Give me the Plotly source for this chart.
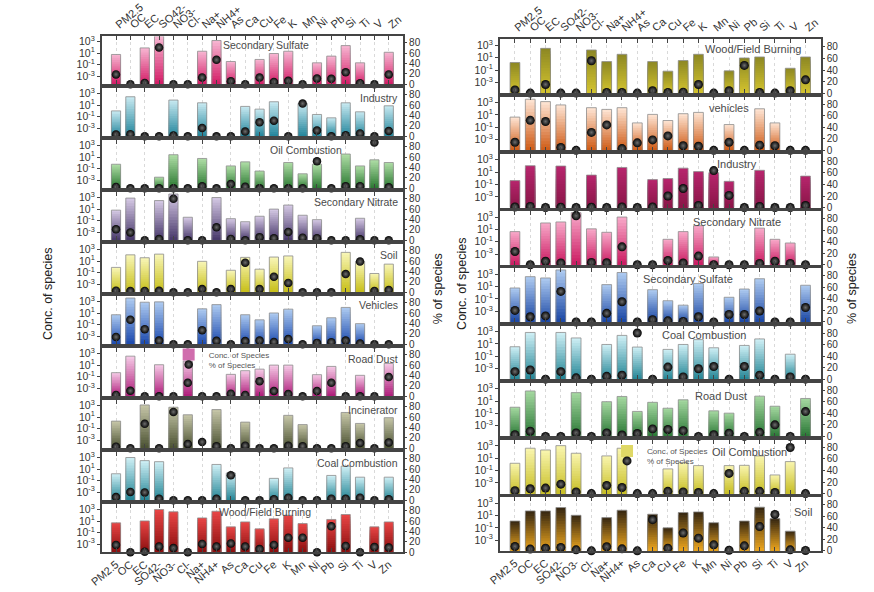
import math
import plotly.graph_objects as go

W, H = 874, 592
FONT = "Arial, Liberation Sans, sans-serif"

species = ["PM2.5", "OC", "EC", "SO42-", "NO3-", "Cl-", "Na+", "NH4+", "As", "Ca",
           "Cu", "Fe", "K", "Mn", "Ni", "Pb", "Si", "Ti", "V", "Zn"]

# ---------------- left column (concentration, % of species) ----------------
ss_L_conc = [5.8, None, 79, 9000, None, None, 21, 1500, 0.35, None, 0.8, 8.5, 21, None, 0.21, 3.0, 200, 0.21, None, 14]
ss_L_pct = [19, 0, 2.6, 71, 0, 0, 13, 47, 6, 0, 13, 4.5, 6.5, 0, 11, 10.4, 23, 2, 0, 19]
ind_L_conc = [1.0, 280, None, None, 74, None, 25, None, None, 5.9, 2.0, 38, None, 19, 0.24, 0.063, 25, 0.69, None, 7.6]
ind_L_pct = [3.4, 4, 0, 0, 1.4, 0, 16, 0, 0, 9, 27, 30, 0, 63, 11, 0, 2, 5.5, 0, 10]
oil_L_conc = [0.58, None, None, 0.0034, 26, None, 5.8, None, 0.3, 1.5, 0.039, None, 1.15, 0.013, 0.58, None, 34, 0.3, 3.4, 1.15]
oil_L_pct = [2.5, 0, 0, 0, 0, 0, 4, 0, 8, 3, 0, 0, 0, 0, 52, 0, 4, 4, 88, 2]
sn_L_conc = [6.6, 800, None, 300, 4000, 0.39, None, 1000, 0.22, 0.066, 0.58, 10, 50, 0.87, 0.15, None, None, 0.26, None, None]
sn_L_pct = [21, 15, 0, 2.6, 80, 0, 0, 25, 2.6, 0, 6, 4, 16, 5, 4, 0, 0, 2, 0, 0]
soil_L_conc = [0.81, 120, 38, 160, None, None, 9.1, None, 0.26, 44, 0.4, 50, 78, None, None, None, 320, 7.9, 0.072, 3.0]
soil_L_pct = [3, 2.5, 2.5, 3, 0, 0, 6, 0, 6, 57, 6, 30, 18, 0, 0, 0, 35, 59, 2.5, 4.5]
veh_L_conc = [5.2, 4000, 760, 870, None, None, 55, 290, None, 5.2, 0.68, 10.5, 48, None, 0.065, 1.55, 95, 0.15, None, None]
veh_L_pct = [14, 47, 29, 7, 0, 0, 27, 6.5, 0, 6, 7, 4.5, 10, 0, 2.6, 4, 7, 1.3, 0, 0]
rd_L_conc = [0.49, 350, None, 11.5, None, 49, None, None, 0.25, 1.07, 2.0, 10, 10, None, 0.22, 5.9, None, 0.17, None, 19.5]
rd_L_pct = [2.5, 10.5, 0, 0, 0, 26, 0, 0, 5, 2.5, 29, 10, 4.3, 0, 10, 26, 0, 0, 0, 37]
inc_L_conc = [2.0, None, 1260, None, 500, 25, None, 200, None, 1.35, None, None, 20, 0.5, None, None, 63, 0.8, None, 7.9]
inc_L_pct = [3, 0, 47, 0, 70, 8, 12, 4, 0, 5, 0, 0, 5, 4, 0, 0, 4, 10, 0, 11]
coal_L_conc = [1.55, 1000, 290, 190, None, None, None, 63, 2.0, None, None, 0.25, 16, None, None, 0.8, 32, 0.4, None, 0.4]
coal_L_pct = [6, 16, 15, 3, 0, 0, 0, 3, 48, 0, 0, 2, 5, 0, 0, 3, 3, 5, 0, 2]
wood_L_conc = [4.9, None, 10.7, 1000, 400, None, 35, 500, 1.0, 7.2, 0.45, 24, 100, 3.7, None, 19, 135, None, 1.0, 7.2]
wood_L_pct = [14, 0, 1, 11, 8, 0, 16, 11, 17, 11, 6, 14, 28, 28, 0, 50, 12, 0, 10, 9]

# ---------------- right column ----------------
wood_R_conc = [1.7, None, 330, None, None, 180, 2.4, 36, None, 2.4, 0.068, 3.5, 36, None, 0.076, 9.3, 13.5, None, 0.2, 13.5]
wood_R_pct = [5.5, 0, 15, 0, 0, 56, 1, 1, 0, 4, 1, 1.6, 15, 0, 4, 48, 1, 0, 4, 23]
veh_R_conc = [4.5, 3500, 1450, 420, None, 150, 79, 150, 0.52, 12.3, 1.26, 16, 26, None, 0.28, None, 100, 0.52, None, None]
veh_R_pct = [14, 52, 50, 5, 0, 31, 44, 3, 13, 18, 25, 8, 7, 0, 14, 0, 9, 8, 0, 0]
ind_R_conc = [0.43, 110, None, 98, None, 3.4, None, 58, None, 0.63, 0.93, 45, 12.3, 8.3, 0.33, None, 20, None, None, 2.3]
ind_R_pct = [1, 2, 0, 0.5, 0, 0.5, 0, 1, 0, 1, 20, 33, 3.5, 64, 21, 0, 2, 0, 0, 3.5]
sn_R_conc = [4.4, None, 110, 160, 5000, 12.3, 3.4, 1000, None, None, 0.25, 4.4, 40, 0.00035, None, None, 16, 0.25, 0.063, None]
sn_R_pct = [23, 0, 6, 3, 85, 4, 3.4, 31, 0, 0, 7.4, 3, 15, 0, 0, 0, 2.3, 6, 2.3, 0]
ss_R_conc = [6, 410, 250, 5000, None, None, 21, 1900, None, 3.2, 0.052, 0.01, 32, None, 0.19, 4.1, 190, None, None, 16.6]
ss_R_pct = [20, 9, 10.5, 53, 0, 0, 15, 35, 0, 4, 2, 1, 9, 0, 13, 13, 19, 0, 0, 25]
coal_R_conc = [3.4, 690, None, 690, 89, None, 7.9, 230, 3.0, None, 1.26, 7.9, 48, 2.3, None, 5.5, 62, None, 0.21, None]
coal_R_pct = [13, 16, 0, 13, 2.4, 0, 5, 7, 80, 0, 21, 4, 18, 22, 0, 22, 7, 0, 4, 0]
rd_R_conc = [1.0, 430, None, None, 230, None, 7.9, 55, 0.21, 6.2, 0.69, 16, None, 0.26, 0.11, None, 62, 1.45, None, 26]
rd_R_pct = [3, 9, 0, 0, 6, 0, 6, 2.4, 5, 13, 12, 10, 0, 3, 5.4, 0, 7, 20, 0, 43]
oil_R_conc = [1.55, 420, 220, 1100, 65, None, 24, 420, None, None, 0.19, 2.0, 0.65, None, 0.65, 0.72, 24, 0.02, 2.9, None]
oil_R_pct = [5, 8.5, 9.6, 16.4, 3, 0, 14, 10.7, 0, 0, 4, 3, 2, 0, 35, 4, 4, 2, 80, 0]
soil_R_conc = [1.26, 55, 55, 195, 10.7, None, 4.5, 71, None, 16, 0.1, 30, 38, 0.68, None, 1.26, 220, 3.1, 0.029, None]
soil_R_pct = [7.5, 3, 4.6, 5.8, 1.7, 0, 7, 3.5, 0, 54, 4.6, 31, 22, 10.4, 1, 8.7, 42, 63, 1.7, 0.5]

# ---------------- styling / layout specification ----------------
COLS = {
    "L": dict(x0=90, x1=396, top=34, pitch=52.8, h=48.5, yr=[-4.38, 3.87], pr=[0, 92], msize=8.5, tsize=10.5),
    "R": dict(x0=494, x1=820, top=37, pitch=58.1, h=54.5, yr=[-4.72, 3.96], pr=[0, 93], msize=9, tsize=11),
}

# (column, title, conc, pct, top colour, bottom colour, title x px, title y px, title anchor)
panels = [
    ("L", "Secondary Sulfate", ss_L_conc, ss_L_pct, "#f6b3d0", "#d41f68", 257, 43, "center"),
    ("L", "Industry", ind_L_conc, ind_L_pct, "#c4e7ef", "#27889e", 393, 96, "right"),
    ("L", "Oil Combustion", oil_L_conc, oil_L_pct, "#acdca4", "#2d7a33", 297, 149, "center"),
    ("L", "Secondary Nitrate", sn_L_conc, sn_L_pct, "#d2c6e2", "#4a3a6c", 393, 202, "right"),
    ("L", "Soil", soil_L_conc, soil_L_pct, "#f7f5b4", "#c9c01c", 393, 256, "right"),
    ("L", "Vehicles", veh_L_conc, veh_L_pct, "#abc8ef", "#1f4db0", 393, 307, "right"),
    ("L", "Road Dust", rd_L_conc, rd_L_pct, "#f4c6e4", "#b0207c", 393, 361, "right"),
    ("L", "Incinerator", inc_L_conc, inc_L_pct, "#c4c4a6", "#4d5434", 393, 413, "right"),
    ("L", "Coal Combustion", coal_L_conc, coal_L_pct, "#cbedf3", "#288898", 393, 467, "right"),
    ("L", "Wood/Field Burning", wood_L_conc, wood_L_pct, "#e64444", "#8c1010", 256, 517, "center"),
    ("R", "Wood/Field Burning", wood_R_conc, wood_R_pct, "#8e8924", "#d2c22e", 751, 47, "center"),
    ("R", "vehicles", veh_R_conc, veh_R_pct, "#fde2d0", "#d05e1a", 727, 107, "center"),
    ("R", "Industry", ind_R_conc, ind_R_pct, "#b6256c", "#8a1648", 735, 163, "center"),
    ("R", "Secondary Nitrate", sn_R_conc, sn_R_pct, "#f7a6c7", "#cc1e64", 735, 222, "center"),
    ("R", "Secondary Sulfate", ss_R_conc, ss_R_pct, "#abc8ef", "#1e4aa6", 685, 280, "center"),
    ("R", "Coal Combustion", coal_R_conc, coal_R_pct, "#cbedf3", "#288898", 701, 337, "center"),
    ("R", "Road Dust", rd_R_conc, rd_R_pct, "#a2d69e", "#2d7a38", 719, 399, "center"),
    ("R", "Oil Combustion", oil_R_conc, oil_R_pct, "#f8f4ac", "#c9c028", 748, 456, "center"),
    ("R", "Soil", soil_R_conc, soil_R_pct, "#3a2a12", "#e9a31e", 813, 517, "right"),
]


def hex_rgb(h):
    h = h.lstrip("#")
    return tuple(int(h[i:i + 2], 16) for i in (0, 2, 4))


def mix(c1, c2, t):
    a, b = hex_rgb(c1), hex_rgb(c2)
    return "rgb(%d,%d,%d)" % tuple(round(a[i] + (b[i] - a[i]) * t) for i in range(3))


NL = 16  # shading layers for the gradient look of the bars
fig = go.Figure()
layout = {}
annotations = []
col_counts = {"L": sum(1 for p in panels if p[0] == "L"), "R": sum(1 for p in panels if p[0] == "R")}
col_index = {"L": 0, "R": 0}

for i, (c, title, conc, pct, ctop, cbot, tx, ty, tanchor) in enumerate(panels):
    C = COLS[c]
    j = col_index[c]
    col_index[c] += 1
    n = i + 1
    xref = "x" if n == 1 else f"x{n}"
    ym, ym2 = 2 * i + 1, 2 * i + 2
    yref = "y" if ym == 1 else f"y{ym}"
    y2ref = f"y{ym2}"
    lo = C["yr"][0]

    bar_leg = (c == "L" and title == "Road Dust") or (c == "R" and title == "Oil Combustion")
    for k in range(NL):
        frac = 1 - k / NL
        vals = [10 ** (lo + (math.log10(v) - lo) * frac) if v else None for v in conc]
        fig.add_trace(go.Bar(
            x=species, y=vals, xaxis=xref, yaxis=yref, width=0.64,
            marker=dict(color=mix(ctop, cbot, k / (NL - 1)), line=dict(width=0)),
            name="Conc. of Species", hoverinfo="skip",
            showlegend=bar_leg and k == NL // 2,
            legend="legend" if c == "L" else "legend2",
        ))
    fig.add_trace(go.Bar(
        x=species, y=conc, xaxis=xref, yaxis=yref, width=0.64,
        marker=dict(color="rgba(0,0,0,0)", line=dict(width=0.8, color="#8d8d8d")),
        showlegend=False, hoverinfo="skip",
    ))
    fig.add_trace(go.Scatter(
        x=species, y=pct, xaxis=xref, yaxis=y2ref, mode="markers", cliponaxis=False,
        marker=dict(size=C["msize"], color="#050505", line=dict(width=0),
                    gradient=dict(type="radial", color="#6e6e6e")),
        name="% of Species", hoverinfo="skip",
        showlegend=bar_leg, legend="legend3" if c == "L" else "legend4",
    ))

    top_px = C["top"] + j * C["pitch"]
    bot_px = top_px + C["h"]
    dom_y = [1 - bot_px / H, 1 - top_px / H]
    dom_x = [C["x0"] / W, C["x1"] / W]
    first, last = j == 0, j == col_counts[c] - 1

    layout["xaxis" if n == 1 else f"xaxis{n}"] = dict(
        domain=dom_x, anchor=yref, type="category", range=[-1, 20],
        categoryorder="array", categoryarray=species,
        showgrid=True, gridcolor="#d9d9d9", griddash="dot", gridwidth=1,
        ticks="inside", ticklen=4, tickwidth=1, tickcolor="#444",
        showline=True, linecolor="#444", linewidth=1.5, mirror="ticks",
        showticklabels=first or last, side="top" if first else "bottom",
        tickangle=-40, tickfont=dict(size=11, color="#333", family=FONT),
        zeroline=False, fixedrange=True,
    )
    layout["yaxis" if ym == 1 else f"yaxis{ym}"] = dict(
        domain=dom_y, anchor=xref, type="log", range=C["yr"],
        tickvals=[1e-3, 1e-1, 1e1, 1e3],
        ticktext=["10<sup>-3</sup>", "10<sup>-1</sup>", "10<sup>1</sup>", "10<sup>3</sup>"],
        ticks="outside", ticklen=3, tickcolor="#444",
        showline=True, linecolor="#444", linewidth=1.5, mirror=True,
        showgrid=False, zeroline=False, tickfont=dict(size=10.5, color="#333", family=FONT),
        fixedrange=True,
    )
    layout[f"yaxis{ym2}"] = dict(
        domain=dom_y, anchor=xref, overlaying=yref, side="right", range=C["pr"],
        tickvals=[0, 20, 40, 60, 80], ticks="outside", ticklen=3, tickcolor="#444",
        showline=False, showgrid=False, zeroline=False,
        tickfont=dict(size=10, color="#333", family=FONT), fixedrange=True,
    )
    annotations.append(dict(
        text=title, x=tx / W, y=1 - ty / H, xref="paper", yref="paper",
        xanchor=tanchor, yanchor="middle", showarrow=False,
        font=dict(size=C["tsize"], color="#4a4a4a", family=FONT),
    ))

# axis titles
for txt, px, py in [("Conc. of species", 35, 295), ("% of species", 431, 290),
                    ("Conc. of species", 455, 285), ("% of species", 851, 290)]:
    annotations.append(dict(
        text=txt, x=px / W, y=1 - py / H, xref="paper", yref="paper",
        xanchor="center", yanchor="middle", textangle=-90, showarrow=False,
        font=dict(size=12.5, color="#222", family=FONT),
    ))


def leg(px, py):
    return dict(x=px / W, y=1 - py / H, xanchor="left", yanchor="middle",
                bgcolor="rgba(0,0,0,0)", font=dict(size=8, color="#555", family=FONT),
                itemwidth=30, tracegroupgap=0, borderwidth=0)


layout["legend"] = leg(158, 357)
layout["legend3"] = leg(158, 367)
layout["legend2"] = leg(603, 455)
layout["legend4"] = leg(603, 465)

fig.update_layout(
    width=W, height=H, margin=dict(l=0, r=0, t=0, b=0),
    paper_bgcolor="white", plot_bgcolor="white", barmode="overlay",
    showlegend=True, annotations=annotations, font=dict(family=FONT),
    **layout,
)

fig.write_html("out.html")
